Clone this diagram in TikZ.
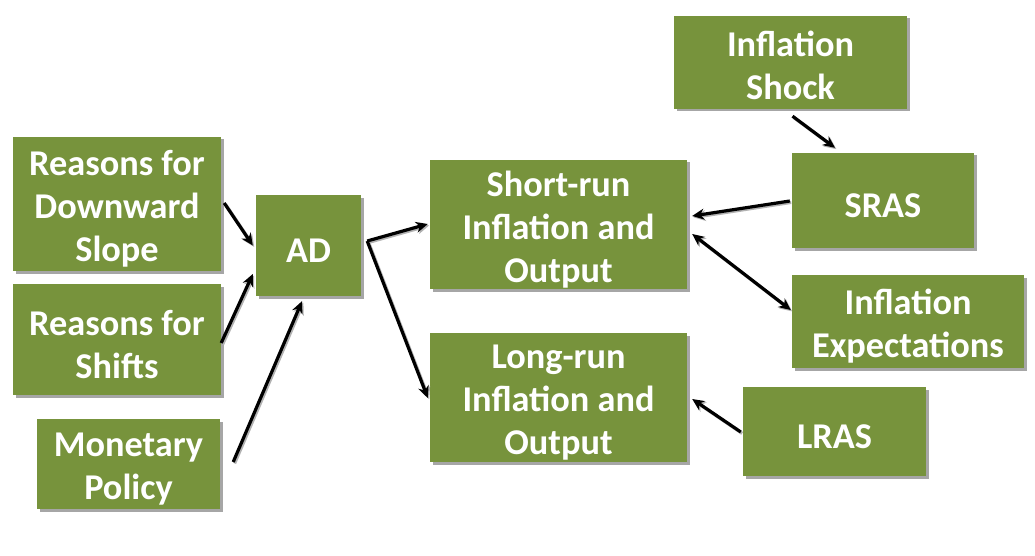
\documentclass[tikz,border=0pt]{standalone}
\usepackage{fontspec}
\setmainfont{Carlito}
\usetikzlibrary{shadows,arrows.meta,calc}
\definecolor{boxgreen}{HTML}{77933C}
\newcommand{\sarrow}[2]{%
  \draw[#1, draw=black!30, transform canvas={xshift=1.4pt,yshift=-1.4pt}] #2;
  \draw[#1] #2;}
\begin{document}
\begin{tikzpicture}[x=1pt,y=-1pt,
  box/.style={fill=boxgreen, inner sep=0pt,
    drop shadow={shadow xshift=2.5pt, shadow yshift=-2.5pt, fill=black!35, opacity=1}},
  boxtext/.style={text=white, font=\fontsize{36.3}{43}\selectfont\bfseries,
    align=center, inner sep=0pt, yshift=-5pt},
  conn/.style={line width=3.2pt, -{Stealth[length=12pt,width=11pt]}},
  dconn/.style={line width=3.2pt, {Stealth[length=12pt,width=11pt]}-{Stealth[length=12pt,width=11pt]}}]
\useasboundingbox (0,0) rectangle (1035,556);

\node[box, minimum width=208pt, minimum height=134pt,
  label={[boxtext]center:{Reasons for\\Downward\\Slope}}] (rdown) at (117,204) {};
\node[box, minimum width=208pt, minimum height=111pt,
  label={[boxtext]center:{Reasons for\\Shifts}}] (rshift) at (117,339.5) {};
\node[box, minimum width=183pt, minimum height=90pt,
  label={[boxtext]center:{Monetary\\Policy}}] (mon) at (128.5,464) {};
\node[box, minimum width=105pt, minimum height=101pt,
  label={[boxtext]center:{AD}}] (ad) at (308.5,245.5) {};
\node[box, minimum width=257pt, minimum height=129pt,
  label={[boxtext]center:{Short-run\\Inflation and\\Output}}] (sr) at (558.5,224.5) {};
\node[box, minimum width=257pt, minimum height=129pt,
  label={[boxtext]center:{Long-run\\Inflation and\\Output}}] (lr) at (558.5,397.5) {};
\node[box, minimum width=233pt, minimum height=93pt,
  label={[boxtext, yshift=2pt]center:{Inflation\\Shock}}] (shock) at (790.5,62.5) {};
\node[box, minimum width=182pt, minimum height=95pt,
  label={[boxtext]center:{SRAS}}] (sras) at (883,200.5) {};
\node[box, minimum width=232pt, minimum height=93pt,
  label={[boxtext]center:{Inflation\\Expectations}}] (exp) at (908,321.5) {};
\node[box, minimum width=183pt, minimum height=89pt,
  label={[boxtext]center:{LRAS}}] (lras) at (834.5,431.5) {};

\sarrow{conn}{($(rdown.east)+(3,-1)$) -- ($(ad.west)+(-3,0)$)}
\sarrow{conn}{($(rshift.east)+(0,3.5)$) -- ($(ad.west)+(-3,28.5)$)}
\sarrow{conn}{($(mon.east)+(13,-2)$) -- ($(ad.south)+(-6.5,5)$)}

\coordinate (corner) at ($(ad.east)+(6,-4.5)$);
\sarrow{conn}{(corner) -- ($(sr.west)+(-2,-0.5)$)}
\sarrow{conn}{(corner) -- ($(lr.west)+(-2,0.5)$)}

\sarrow{conn}{($(sras.west)+(-2,0.5)$) -- ($(sr.east)+(5,-8.5)$)}
\sarrow{dconn}{($(sr.east)+(5,9.5)$) -- ($(exp.west)+(-1,-11.5)$)}
\sarrow{conn}{($(lras.west)+(-2,0.5)$) -- ($(lr.east)+(5,1.5)$)}
\sarrow{conn}{($(shock.south)+(2,7)$) -- ($(sras.north)+(-48,-5)$)}
\end{tikzpicture}
\end{document}
